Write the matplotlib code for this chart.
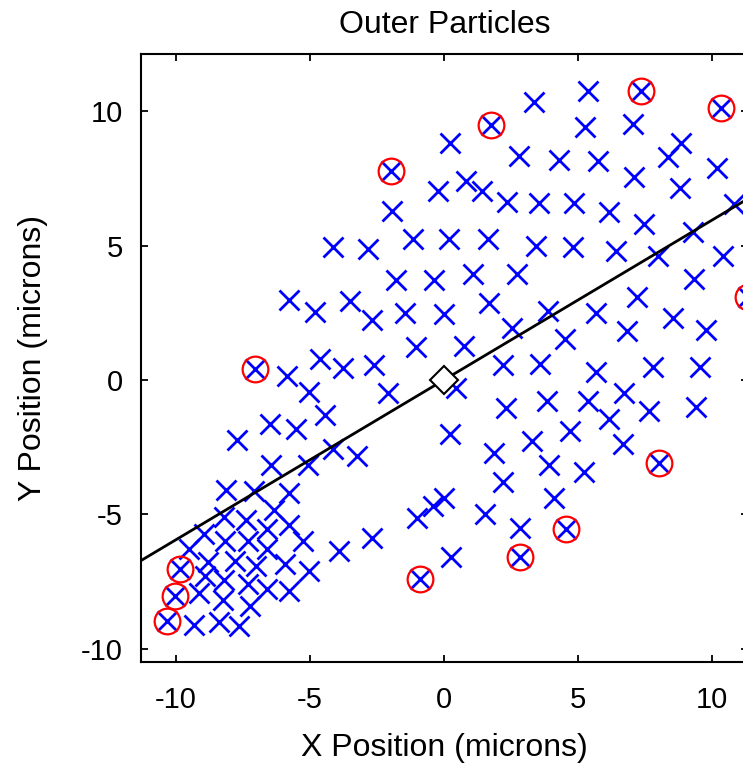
import numpy as np
import matplotlib
matplotlib.use('Agg')
import matplotlib.pyplot as plt

plt.rcParams['font.family'] = ['Liberation Sans', 'DejaVu Sans']
plt.rcParams['axes.unicode_minus'] = False

# Particle positions (microns)
x_blue = [3.36, 5.37, 5.26, 7.05, 0.22, 2.8, 4.29, 5.75, 8.84, 8.36, 10.19,
          0.82, -0.22, 1.42, 7.09, 8.81, 2.35, 3.55, 4.85, -1.94, 6.16, 10.82,
          7.46, 9.29, -1.16, 0.19, 1.64, 3.45, 4.81, -4.14, -2.84, 6.42, 7.99,
          10.41, -1.79, -0.37, 1.08, 2.72, 9.33, -5.78, -3.51, 1.68, 7.2,
          -4.81, -2.69, -1.46, 0.0, 3.88, 5.67, 8.54, 2.54, 6.83, 9.78, 4.51,
          -1.04, 0.75,
          -4.63, -5.86, -3.75, -2.62, -2.1, -5.04, 0.45, 2.22, 3.58, 5.67,
          7.82, 9.55, 2.33, 3.86, 5.37, 6.72, 6.16, 7.65, 9.4, -4.42, -6.49,
          -5.52, -7.72, 0.22, 3.3, 4.7, 6.68, 1.87, -4.12, -3.25, -6.46,
          -5.08, 3.92, 5.22, 2.22, 0.02, 4.1, -0.41, -1.0, 1.55, 2.84, -2.69,
          0.28,
          -8.12, -7.09, -5.78, -6.34, -8.21, -7.39, -6.6, -5.78, -8.96, -8.15,
          -7.29, -5.24, -9.51, -6.6, -8.81, -7.8, -7.01, -5.93, -3.92, -8.92,
          -8.21, -7.31, -5.04, -9.14, -6.6, -5.78, -8.25, -7.24, -9.33, -8.4,
          -7.65]
y_blue = [10.35, 10.76, 9.42, 9.53, 8.83, 8.34, 8.19, 8.16, 8.83, 8.31, 7.9,
          7.41, 7.04, 7.04, 7.56, 7.15, 6.63, 6.6, 6.59, 6.3, 6.26, 6.56,
          5.81, 5.51, 5.25, 5.25, 5.25, 5.0, 4.95, 4.95, 4.88, 4.8, 4.62,
          4.62, 3.72, 3.72, 3.95, 3.95, 3.76, 2.98, 2.94, 2.87, 3.09,
          2.53, 2.23, 2.49, 2.46, 2.57, 2.49, 2.31, 1.94, 1.83, 1.86, 1.53,
          1.23, 1.27,
          0.8, 0.15, 0.43, 0.56, -0.5, -0.45, -0.28, 0.56, 0.6, 0.3,
          0.5, 0.48, -1.04, -0.78, -0.78, -0.48, -1.45, -1.15, -1.0, -1.3,
          -1.64, -1.82, -2.23, -2.0, -2.27, -1.9, -2.38, -2.72, -2.55, -2.83,
          -3.17, -3.15, -3.17, -3.43, -3.78, -4.4, -4.4, -4.7, -5.14, -4.99,
          -5.51, -5.9, -6.59,
          -4.1, -4.13, -4.21, -4.84, -5.1, -5.21, -5.55, -5.4, -5.74, -5.98,
          -6.0, -5.98, -6.29, -6.29, -6.77, -6.74, -6.93, -6.85, -6.37, -7.3,
          -7.45, -7.6, -7.11, -7.93, -7.77, -7.86, -8.19, -8.42, -9.12, -9.01,
          -9.16]

# Outer particles (circled)
x_red = [-1.98, 1.75, 7.35, 10.34, 11.35, -7.05, 8.02, 4.55, 2.84, -0.9,
         -9.85, -10.04, -10.34]
y_red = [7.8, 9.5, 10.76, 10.13, 3.09, 0.41, -3.09, -5.55, -6.59, -7.41,
         -7.04, -8.04, -8.98]

center = (0.0, 0.0)
fit_slope = 0.595

fig = plt.figure(figsize=(7.43, 7.76), dpi=100)
ax = fig.add_axes([141 / 743, 1 - 662 / 776, 607 / 743, 608 / 776])

ax.plot(x_blue + x_red, y_blue + y_red, 'x', color='#0000ff', ms=14, mew=2.0,
        linestyle='none', zorder=2)
ax.plot(x_red, y_red, 'o', mfc='none', mec='#ff0000', ms=18.5, mew=1.6,
        linestyle='none', zorder=3)
fit_x = np.array([-11.3, 11.35])
ax.plot(fit_x, fit_slope * fit_x, '-k', lw=2.0, zorder=4)
ax.plot(*center, 'D', mfc='white', mec='k', ms=14, mew=1.5, zorder=5)

ax.set_xlim(-11.3, 11.35)
ax.set_ylim(-10.5, 12.14)
ax.set_xticks([-10, -5, 0, 5, 10])
ax.set_yticks([-10, -5, 0, 5, 10])
ax.tick_params(direction='in', length=5, width=1.3, top=True, right=True,
               labelsize=21)
ax.tick_params(axis='x', pad=17)
ax.tick_params(axis='y', pad=13)
for s in ax.spines.values():
    s.set_linewidth(1.5)

ax.set_title('Outer Particles', fontsize=23, pad=15)
ax.set_xlabel('X Position (microns)', fontsize=23, labelpad=14)
ax.set_ylabel('Y Position (microns)', fontsize=23, labelpad=24)

fig.savefig('out.png', dpi=100)
